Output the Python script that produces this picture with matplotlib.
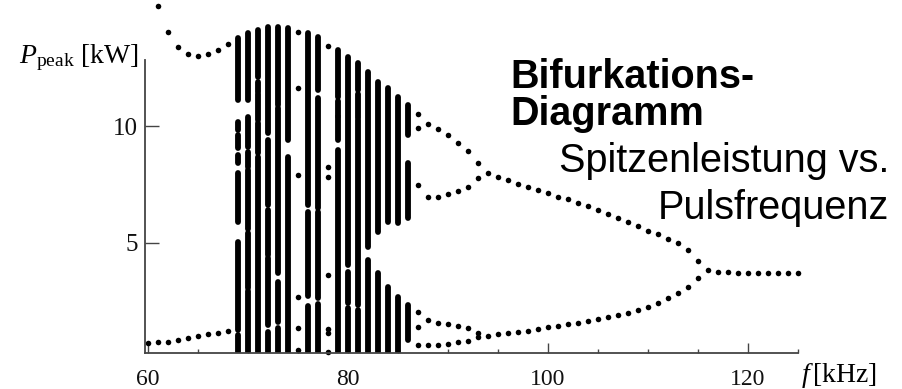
import matplotlib
matplotlib.use("Agg")
import matplotlib.pyplot as plt
from matplotlib.ticker import FixedLocator

# ---------------- data (kHz, kW) ----------------
# period-2 branch at low frequency
left_f_upper = [61, 62, 63, 64, 65, 66, 67, 68]
left_p_upper = [15.15, 14.04, 13.39, 13.09, 13.00, 13.09, 13.26, 13.52]
left_f_lower = [60, 61, 62, 63, 64, 65, 66, 67, 68]
left_p_lower = [0.68, 0.71, 0.71, 0.80, 0.89, 0.97, 1.06, 1.10, 1.19]

# chaotic bands: frequency, lower end, upper end of each dense band
chaos_f = [69, 69, 69, 69, 69, 69, 69, 69,
           70, 70, 70, 70, 70, 70,
           71, 71, 71, 71, 71,
           72, 72, 72, 72, 72,
           73, 73, 73, 73,
           74, 74,
           76, 76, 76,
           77, 77, 77, 77,
           79, 79, 79, 79,
           80, 80, 80,
           81, 81, 81, 81,
           82, 82,
           83, 83,
           84, 84,
           85, 85,
           86, 86, 86, 86]
chaos_hi = [13.78, 10.64, 10.17, 9.61, 8.75, 7.98, 5.01, 1.01,
            13.99, 10.38, 8.90, 8.10, 5.40, 2.90,
            14.12, 11.90, 11.40, 10.13, 8.66,
            14.25, 9.39, 6.39, 4.32, 1.14,
            14.25, 10.77, 3.29, 1.31,
            14.21, 8.66,
            13.99, 6.30, 2.26,
            13.82, 11.20, 6.30, 2.35,
            13.26, 11.10, 10.38, 8.96,
            12.96, 3.72, 2.17,
            12.70, 11.37, 10.25, 2.09,
            12.32, 4.24,
            11.89, 3.68,
            11.63, 3.08,
            11.24, 2.65,
            10.90, 8.41, 2.30, 0.58]
chaos_lo = [11.11, 10.64, 9.82, 9.05, 8.41, 5.87, 1.23, 0.28,
            11.11, 9.10, 8.25, 5.60, 3.05, 0.28,
            12.10, 11.45, 10.25, 8.84, 0.28,
            9.69, 6.60, 4.45, 1.44, 0.28,
            10.90, 3.68, 1.57, 0.28,
            9.39, 0.28,
            6.60, 2.69, 0.28,
            11.54, 6.47, 2.60, 0.28,
            11.24, 10.45, 9.39, 0.28,
            4.02, 2.39, 0.28,
            11.54, 10.34, 2.30, 0.28,
            4.80, 0.28,
            5.44, 0.28,
            5.87, 0.28,
            5.83, 0.28,
            9.61, 6.04, 0.80, 0.58]

# periodic windows inside the chaos
win_f = [75, 75, 75, 75, 75, 75, 78, 78, 78, 78, 78, 78, 78]
win_p = [14.04, 11.63, 7.89, 2.65, 1.31, 0.37,
         13.43, 8.23, 7.81, 3.59, 1.27, 1.10, 0.28]

# period-4 region after the chaos
p4_f = [87, 87, 87, 87, 87, 87,
        88, 88, 88, 88,
        89, 89, 89, 89,
        90, 90, 90, 90,
        91, 91, 91, 91,
        92, 92, 92, 92,
        93, 93, 93, 93]
p4_p = [10.51, 9.91, 7.46, 2.00, 1.36, 0.58,
        10.08, 6.94, 1.66, 0.58,
        9.86, 6.94, 1.53, 0.58,
        9.61, 7.07, 1.49, 0.63,
        9.26, 7.20, 1.40, 0.71,
        8.92, 7.37, 1.31, 0.76,
        8.41, 7.76, 1.10, 0.93]

# period-2 branch
p2_f = list(range(94, 116))
p2_upper = [7.97, 7.80, 7.68, 7.50, 7.37, 7.25, 7.12, 6.94, 6.86, 6.69, 6.56,
            6.39, 6.21, 6.04, 5.87, 5.70, 5.48, 5.36, 5.14, 4.97, 4.67, 4.19]
p2_lower = [0.97, 1.06, 1.10, 1.14, 1.19, 1.27, 1.36, 1.40, 1.49, 1.53, 1.62,
            1.70, 1.79, 1.87, 1.96, 2.09, 2.22, 2.39, 2.60, 2.82, 3.08, 3.46]

# period-1 branch
p1_f = list(range(116, 126))
p1_p = [3.81, 3.74, 3.72, 3.71, 3.70, 3.70, 3.69, 3.69, 3.69, 3.69]

x_major = [60, 80, 100, 120]
x_minor = [65, 70, 75, 85, 90, 95, 105, 110, 115, 125]
y_major = [5, 10]

# ---------------- figure ----------------
W, H = 902, 389
plt.rcParams['mathtext.fontset'] = 'custom'
plt.rcParams['mathtext.rm'] = 'Liberation Serif'
plt.rcParams['mathtext.it'] = 'Liberation Serif:italic'

fig = plt.figure(figsize=(W / 100, H / 100), dpi=100)
ax_left, ax_right, ax_bottom, ax_top = 145, 798, 353.3, 0
ax = fig.add_axes([ax_left / W, 1 - ax_bottom / H,
                   (ax_right - ax_left) / W, (ax_bottom - ax_top) / H])
ax.set_xlim(59.7, 125)
ax.set_ylim(0.24, 15.42)

dot = dict(linestyle='none', marker='o', ms=4.0, mew=0, color='black', clip_on=False)
ax.plot(left_f_upper, left_p_upper, **dot)
ax.plot(left_f_lower, left_p_lower, **dot)
ax.vlines(chaos_f, chaos_lo, chaos_hi, colors='black', linewidth=4.2,
          capstyle='round')
ax.plot(win_f, win_p, **dot)
ax.plot(p4_f, p4_p, **dot)
ax.plot(p2_f, p2_upper, **dot)
ax.plot(p2_f, p2_lower, **dot)
ax.plot(p1_f, p1_p, **dot)

axis_col = '#444444'
for s in ('top', 'right'):
    ax.spines[s].set_visible(False)
for s in ('left', 'bottom'):
    ax.spines[s].set_color(axis_col)
    ax.spines[s].set_linewidth(1.3)
ax.spines['left'].set_bounds(0.24, 12.86)

ax.xaxis.set_major_locator(FixedLocator(x_major))
ax.xaxis.set_minor_locator(FixedLocator(x_minor))
ax.yaxis.set_major_locator(FixedLocator(y_major))
ax.set_xticklabels([str(v) for v in x_major])
ax.set_yticklabels([str(v) for v in y_major])
ax.tick_params(axis='x', which='major', direction='in', length=7.2, width=1.0,
               color=axis_col, pad=11, labelsize=17)
ax.tick_params(axis='x', which='minor', direction='in', length=2.9, width=1.0,
               color=axis_col)
ax.tick_params(axis='y', which='major', direction='in', length=10, width=1.0,
               color=axis_col, pad=5, labelsize=18)
for lab in ax.get_xticklabels() + ax.get_yticklabels():
    lab.set_fontfamily('Liberation Serif')
    lab.set_color('#111111')
ax.patch.set_alpha(0)

def fx(px):
    return px / W

def fy(py):
    return 1 - py / H

fig.text(fx(139), fy(63), r'$P_{\mathrm{peak}}$ [kW]', ha='right', va='baseline',
         fontsize=20, family='Liberation Serif')
fig.text(fx(801), fy(382), r'$f\,$[kHz]', ha='left', va='baseline',
         fontsize=20, family='Liberation Serif')

fig.text(fx(510), fy(88), 'Bifurkations-', ha='left', va='baseline',
         fontsize=28.5, fontweight='bold', family='Liberation Sans')
fig.text(fx(510), fy(125), 'Diagramm', ha='left', va='baseline',
         fontsize=28.5, fontweight='bold', family='Liberation Sans')
fig.text(fx(889), fy(172), 'Spitzenleistung vs.', ha='right', va='baseline',
         fontsize=28.5, family='Liberation Sans')
fig.text(fx(889), fy(219), 'Pulsfrequenz', ha='right', va='baseline',
         fontsize=28.5, family='Liberation Sans')

fig.savefig('out.png', dpi=100)
